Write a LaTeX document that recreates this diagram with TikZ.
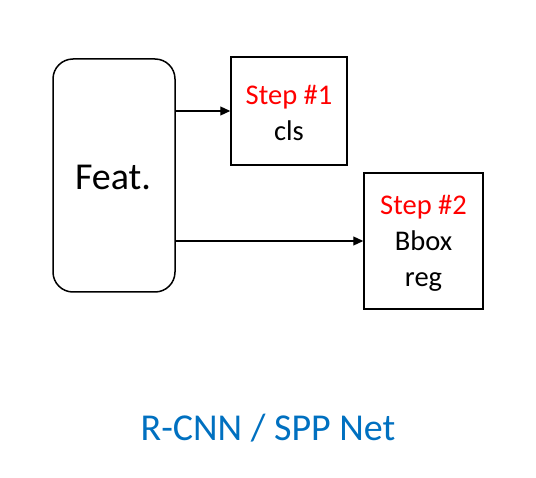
\documentclass[tikz,border=0pt]{standalone}
\usepackage{fontspec}
\setmainfont{Carlito}
\usetikzlibrary{arrows.meta}
\definecolor{stepred}{RGB}{255,0,0}
\definecolor{titleblue}{RGB}{0,112,192}
\begin{document}
\begin{tikzpicture}[x=1pt,y=1pt,
  featbox/.style={draw,line width=1.5pt,rounded corners=20pt,minimum width=122pt,minimum height=233pt,inner sep=0pt},
  stepbox/.style={draw,line width=1.5pt,inner sep=0pt},
  steptext/.style={inner sep=0pt,align=center,font=\fontsize{28.5}{36}\selectfont},
  conn/.style={line width=1.2pt,-{Triangle[length=10pt,width=9pt]}}]
\useasboundingbox (0,0) rectangle (536,-478);
\node[featbox] (feat) at (114,-175.5) {};
\node[font=\fontsize{38}{45}\selectfont] (featlbl) at (113,-177) {Feat.};
\node[stepbox,minimum width=116pt,minimum height=108pt] (s1) at (289,-111) {};
\node[steptext] (s1t) at (289,-113) {\textcolor{stepred}{Step \#1}\\cls};
\node[stepbox,minimum width=119pt,minimum height=136pt] (s2) at (423.5,-241) {};
\node[steptext] (s2t) at (423.5,-243) {\textcolor{stepred}{Step \#2}\\Bbox\\reg};
\coordinate (a1) at (175,-111);
\coordinate (a2) at (175,-241);
\draw[conn] (a1) -- (s1.west);
\draw[conn] (a2) -- (s2.west);
\node[text=titleblue,font=\fontsize{38}{45}\selectfont] (title) at (268,-428) {R-CNN / SPP Net};
\end{tikzpicture}
\end{document}
